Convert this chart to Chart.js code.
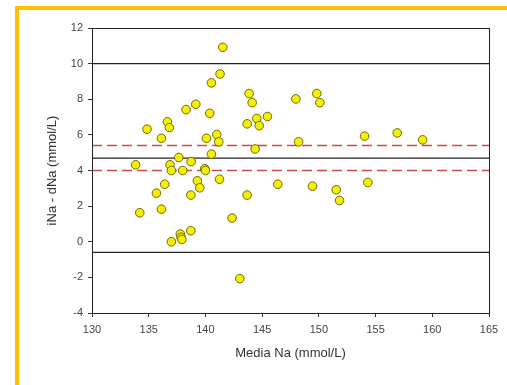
<!DOCTYPE html>
<html>
<head>
<meta charset="utf-8">
<script src="https://cdn.jsdelivr.net/npm/chart.js@4.4.1/dist/chart.umd.min.js"></script>
<style>
  html, body { margin: 0; padding: 0; background: #fff; overflow: hidden; }
  #frame { position: absolute; left: 15px; top: 6px; width: 600px; height: 500px;
           border-top: 4px solid #ffc000; border-left: 4px solid #ffc000; }
  #chart { position: absolute; left: 0; top: 0; }
</style>
</head>
<body>
<div id="frame"></div>
<canvas id="chart" width="507" height="385"></canvas>
<script>
// mean Na (x) and iNa - dNa difference (y)
const mediaNa = [133.85, 134.21, 134.85, 135.68, 136.12, 136.12, 136.41, 136.65, 136.82, 136.88,
  137.0, 137.0, 137.65, 137.79, 137.85, 137.92, 138.0, 138.29, 138.71, 138.71,
  138.74, 139.15, 139.29, 139.5, 139.94, 140.0, 140.09, 140.38, 140.53, 140.53,
  141.0, 141.18, 141.24, 141.29, 141.53, 142.35, 143.03, 143.68, 143.68, 143.85,
  144.12, 144.38, 144.53, 144.74, 145.47, 146.38, 147.97, 148.21, 149.44, 149.82,
  150.09, 151.53, 151.82, 154.03, 154.32, 156.91, 159.15];
const diffNa = [4.32, 1.63, 6.32, 2.73, 5.81, 1.83, 3.23, 6.73, 6.41, 4.32,
  4.0, 0.0, 4.73, 0.43, 0.25, 0.13, 4.0, 7.42, 2.62, 0.62,
  4.5, 7.72, 3.42, 3.03, 4.1, 4.0, 5.81, 7.21, 8.92, 4.92,
  6.02, 5.61, 3.51, 9.42, 10.92, 1.33, -2.07, 6.62, 2.62, 8.32,
  7.81, 5.21, 6.92, 6.52, 7.03, 3.23, 8.02, 5.61, 3.12, 8.32,
  7.81, 2.92, 2.32, 5.93, 3.33, 6.11, 5.72];

const xRange = [130, 165];
const meanDiff = 4.7;
const limitsOfAgreement = [10.0, -0.6];
const meanCI = [5.4, 4.0];

const points = mediaNa.map((x, i) => ({ x, y: diffNa[i] }));
const hline = y => xRange.map(x => ({ x, y }));

const FONT = "'Liberation Sans', Arial, sans-serif";

const solid = y => ({
  type: 'line', data: hline(y), borderColor: '#222', borderWidth: 1.2,
  pointRadius: 0, order: 2
});
const dashed = y => ({
  type: 'line', data: hline(y), borderColor: '#cf4a4a', borderWidth: 1.6,
  borderDash: [10, 5], pointRadius: 0, order: 1
});

const boxPlugin = {
  id: 'box',
  afterDraw(chart) {
    const { ctx, chartArea: a } = chart;
    ctx.save();
    ctx.strokeStyle = '#222';
    ctx.lineWidth = 1;
    ctx.strokeRect(Math.round(a.left) + 0.5, Math.round(a.top) + 0.5,
      Math.round(a.right - a.left), Math.round(a.bottom - a.top));
    ctx.restore();
  }
};

new Chart(document.getElementById('chart'), {
  type: 'scatter',
  data: {
    datasets: [
      { data: points, backgroundColor: '#f4f000', borderColor: '#6e6800', borderWidth: 1,
        pointRadius: 4.3, order: 0 },
      solid(limitsOfAgreement[0]),
      solid(meanDiff),
      solid(limitsOfAgreement[1]),
      dashed(meanCI[0]),
      dashed(meanCI[1])
    ]
  },
  options: {
    responsive: false,
    animation: false,
    layout: { padding: { left: 0, right: 18, top: 28, bottom: 0 } },
    plugins: { legend: { display: false }, tooltip: { enabled: false } },
    scales: {
      x: {
        type: 'linear', min: xRange[0], max: xRange[1],
        ticks: { stepSize: 5, color: '#444', font: { family: FONT, size: 11 }, padding: 6, maxRotation: 0 },
        grid: { drawOnChartArea: false, tickLength: 4, color: '#333' },
        border: { color: '#222', width: 1 },
        title: { display: true, text: 'Media Na (mmol/L)', color: '#333',
                 font: { family: FONT, size: 13 }, padding: { top: 0, bottom: 24 } },
        afterFit(s) { s.height = 72; }
      },
      y: {
        min: -4, max: 12,
        ticks: { stepSize: 2, color: '#444', font: { family: FONT, size: 11 }, padding: 5 },
        grid: { drawOnChartArea: false, tickLength: 4, color: '#333' },
        border: { color: '#222', width: 1 },
        title: { display: true, text: 'iNa - dNa (mmol/L)', color: '#333',
                 font: { family: FONT, size: 13 }, padding: { top: 45, bottom: 0 } },
        afterFit(s) { s.width = 92; }
      }
    }
  },
  plugins: [boxPlugin]
});
</script>
</body>
</html>
